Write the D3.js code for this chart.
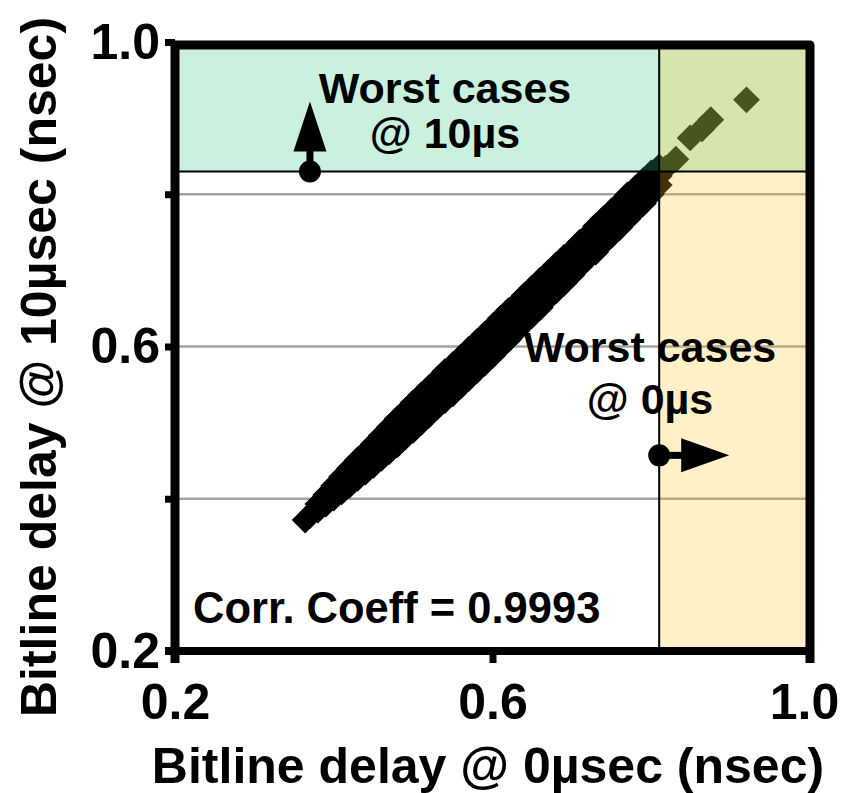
<!DOCTYPE html>
<html>
<head>
<meta charset="utf-8">
<script src="https://cdn.jsdelivr.net/npm/d3@7"></script>
<style>
  html, body { margin: 0; padding: 0; background: #fff; }
  svg { display: block; font-family: "Liberation Sans", Arial, Helvetica, sans-serif; font-weight: bold; }
</style>
</head>
<body>
<svg id="chart" width="841" height="793"></svg>
<script>
// Bitline delay of each sample (nsec), measured at 0 µs and again at 10 µs.
const delay0us = [
  0.364, 0.370,
  0.38, 0.38, 0.38,  0.39, 0.39, 0.39,  0.40, 0.40, 0.40,  0.41, 0.41, 0.41,
  0.42, 0.42, 0.42,  0.43, 0.43, 0.43,  0.44, 0.44, 0.44,  0.45, 0.45, 0.45,
  0.46, 0.46, 0.46,  0.47, 0.47, 0.47,  0.48, 0.48, 0.48,  0.49, 0.49, 0.49,
  0.50, 0.50, 0.50,  0.51, 0.51, 0.51,  0.52, 0.52, 0.52,  0.53, 0.53, 0.53,
  0.54, 0.54, 0.54,  0.55, 0.55, 0.55,  0.56, 0.56, 0.56,  0.57, 0.57, 0.57,
  0.58, 0.58, 0.58,  0.59, 0.59, 0.59,  0.60, 0.60, 0.60,  0.61, 0.61, 0.61,
  0.62, 0.62, 0.62,  0.63, 0.63, 0.63,  0.64, 0.64, 0.64,  0.65, 0.65, 0.65,
  0.66, 0.66, 0.66,  0.67, 0.67, 0.67,  0.68, 0.68, 0.68,  0.69, 0.69, 0.69,
  0.70, 0.70, 0.70,  0.71, 0.71, 0.71,  0.72, 0.72, 0.72,  0.73, 0.73, 0.73,
  0.74, 0.74, 0.74,  0.75, 0.75, 0.75,  0.76, 0.76, 0.76,  0.77, 0.77, 0.77,
  0.78, 0.78, 0.78,  0.79, 0.79, 0.79,  0.80, 0.80, 0.80,  0.81, 0.81, 0.81,
  0.818, 0.831, 0.849, 0.864, 0.875, 0.920
];
const delay10us = [
  0.372, 0.378,
  0.385, 0.389, 0.393,  0.393, 0.399, 0.405,  0.401, 0.409, 0.417,  0.409, 0.419, 0.429,
  0.418, 0.429, 0.440,  0.427, 0.439, 0.451,  0.435, 0.448, 0.461,  0.444, 0.458, 0.472,
  0.453, 0.468, 0.483,  0.462, 0.478, 0.494,  0.471, 0.488, 0.505,  0.481, 0.498, 0.515,
  0.490, 0.508, 0.526,  0.500, 0.518, 0.536,  0.510, 0.528, 0.546,  0.520, 0.538, 0.556,
  0.529, 0.548, 0.567,  0.538, 0.557, 0.576,  0.548, 0.567, 0.586,  0.558, 0.577, 0.596,
  0.568, 0.587, 0.606,  0.578, 0.597, 0.616,  0.588, 0.607, 0.626,  0.599, 0.618, 0.637,
  0.609, 0.628, 0.647,  0.620, 0.638, 0.656,  0.631, 0.649, 0.667,  0.641, 0.659, 0.677,
  0.651, 0.669, 0.687,  0.663, 0.680, 0.697,  0.673, 0.690, 0.707,  0.683, 0.700, 0.717,
  0.694, 0.710, 0.726,  0.705, 0.721, 0.737,  0.716, 0.731, 0.746,  0.724, 0.741, 0.758,
  0.736, 0.752, 0.768,  0.746, 0.762, 0.778,  0.756, 0.772, 0.788,  0.767, 0.783, 0.799,
  0.778, 0.793, 0.808,  0.788, 0.803, 0.818,  0.800, 0.814, 0.828,  0.812, 0.824, 0.836,
  0.834, 0.846, 0.874, 0.886, 0.898, 0.924
];

// Worst-case thresholds (nsec)
const worstAt0us = 0.81;
const worstAt10us = 0.83;
const corrCoeff = 0.9993;

// Axis ticks
const xTicks = [0.2, 0.6, 1.0];
const yTicks = [0.2, 0.4, 0.6, 0.8, 1.0];
const yTickLabels = [0.2, 0.6, 1.0];
const gridValues = [0.4, 0.6, 0.8];

const xLabel = "Bitline delay @ 0µsec (nsec)";
const yLabel = "Bitline delay @ 10µsec (nsec)";

const svg = d3.select("#chart");
const x = d3.scaleLinear().domain([0.2, 1.0]).range([175, 810]);
const y = d3.scaleLinear().domain([0.2, 1.0]).range([651, 42]);

const points = delay0us.map((d, i) => ({ x0: d, x10: delay10us[i] }));

// horizontal gridlines
svg.append("g").selectAll("line").data(gridValues).join("line")
  .attr("x1", x(0.2) + 4).attr("x2", x(1.0) - 4)
  .attr("y1", d => y(d)).attr("y2", d => y(d))
  .attr("stroke", "#a3a3a3").attr("stroke-width", 2.5);

// diamond markers
const diamond = d3.symbol(d3.symbolSquare).size(19 * 19);
svg.append("g").selectAll("path").data(points).join("path")
  .attr("d", diamond)
  .attr("transform", d => `translate(${x(d.x0)},${y(d.x10)}) rotate(45)`)
  .attr("fill", "#000");

// worst-case regions (translucent, over the markers)
svg.append("rect")
  .attr("x", x(0.2)).attr("y", y(1.0))
  .attr("width", x(1.0) - x(0.2)).attr("height", y(worstAt10us) - y(1.0))
  .attr("fill", "rgb(40,200,120)").attr("fill-opacity", 0.25);
svg.append("rect")
  .attr("x", x(worstAt0us)).attr("y", y(1.0))
  .attr("width", x(1.0) - x(worstAt0us)).attr("height", y(0.2) - y(1.0))
  .attr("fill", "rgb(255,196,36)").attr("fill-opacity", 0.25);
svg.append("line")
  .attr("x1", x(0.2)).attr("x2", x(1.0))
  .attr("y1", y(worstAt10us)).attr("y2", y(worstAt10us))
  .attr("stroke", "#000").attr("stroke-width", 2);
svg.append("line")
  .attr("x1", x(worstAt0us)).attr("x2", x(worstAt0us))
  .attr("y1", y(1.0)).attr("y2", y(0.2))
  .attr("stroke", "#000").attr("stroke-width", 2);

// frame
svg.append("path")
  .attr("d", `M${x(0.2)},${y(1.0) + 3}H${x(1.0)}V${y(0.2) + 12}`)
  .attr("fill", "none").attr("stroke", "#000").attr("stroke-width", 9)
  .attr("stroke-linejoin", "round");
svg.append("line")
  .attr("x1", x(0.2)).attr("x2", x(0.2))
  .attr("y1", y(1.0) - 1).attr("y2", y(0.2) + 12)
  .attr("stroke", "#000").attr("stroke-width", 9);
svg.append("line")
  .attr("x1", x(0.2) - 10).attr("x2", x(1.0) + 4)
  .attr("y1", y(0.2)).attr("y2", y(0.2))
  .attr("stroke", "#000").attr("stroke-width", 8);

// axes
const yAxis = svg.append("g")
  .attr("transform", `translate(${x(0.2)},0)`)
  .call(d3.axisLeft(y).tickValues(yTicks).tickSize(10).tickPadding(5).tickSizeOuter(0)
    .tickFormat(d => yTickLabels.some(v => Math.abs(v - d) < 1e-9) ? d3.format(".1f")(d) : ""));
const xAxis = svg.append("g")
  .attr("transform", `translate(0,${y(0.2)})`)
  .call(d3.axisBottom(x).tickValues(xTicks).tickSize(12).tickPadding(20).tickSizeOuter(0)
    .tickFormat(d3.format(".1f")));
[yAxis, xAxis].forEach(g => {
  g.select(".domain").remove();
  g.attr("font-family", null).attr("font-size", null);
  g.selectAll(".tick line").attr("stroke", "#000").attr("stroke-width", 7);
  g.selectAll(".tick text").attr("fill", "#000")
    .style("font-size", "50px").style("font-weight", "bold");
});
// keep the last x label inside the page edge
xAxis.selectAll(".tick text").filter(d => d === 1.0).attr("dx", -6);

// axis titles
svg.append("text")
  .attr("x", 488).attr("y", 783)
  .attr("text-anchor", "middle").style("font-size", "50px")
  .text(xLabel);
svg.append("text")
  .attr("transform", "translate(56,367) rotate(-90)")
  .attr("text-anchor", "middle").style("font-size", "50px")
  .text(yLabel);

// annotations
const note = (lines, cx, baselines) => lines.forEach((t, i) =>
  svg.append("text").attr("x", cx).attr("y", baselines[i])
    .attr("text-anchor", "middle").style("font-size", "43px").text(t));
note(["Worst cases", "@ 10µs"], 445, [103, 148]);
note(["Worst cases", "@ 0µs"], 650, [362, 414]);

svg.append("text")
  .attr("x", 193).attr("y", 623)
  .style("font-size", "43.5px")
  .text(`Corr. Coeff = ${corrCoeff}`);

// arrows pointing into the worst-case regions
const upX = x(0.37), upY = y(worstAt10us);
svg.append("line").attr("x1", upX).attr("x2", upX).attr("y1", upY).attr("y2", upY - 22)
  .attr("stroke", "#000").attr("stroke-width", 7);
svg.append("path")
  .attr("d", `M${upX},${upY - 70}L${upX + 16.5},${upY - 20}L${upX - 16.5},${upY - 20}Z`)
  .attr("fill", "#000");
svg.append("circle").attr("cx", upX).attr("cy", upY).attr("r", 11).attr("fill", "#000");

const rtX = x(worstAt0us), rtY = y(0.457);
svg.append("line").attr("x1", rtX).attr("x2", rtX + 24).attr("y1", rtY).attr("y2", rtY)
  .attr("stroke", "#000").attr("stroke-width", 7);
svg.append("path")
  .attr("d", `M${rtX + 70},${rtY}L${rtX + 22},${rtY - 17}L${rtX + 22},${rtY + 17}Z`)
  .attr("fill", "#000");
svg.append("circle").attr("cx", rtX).attr("cy", rtY).attr("r", 11).attr("fill", "#000");
</script>
</body>
</html>
